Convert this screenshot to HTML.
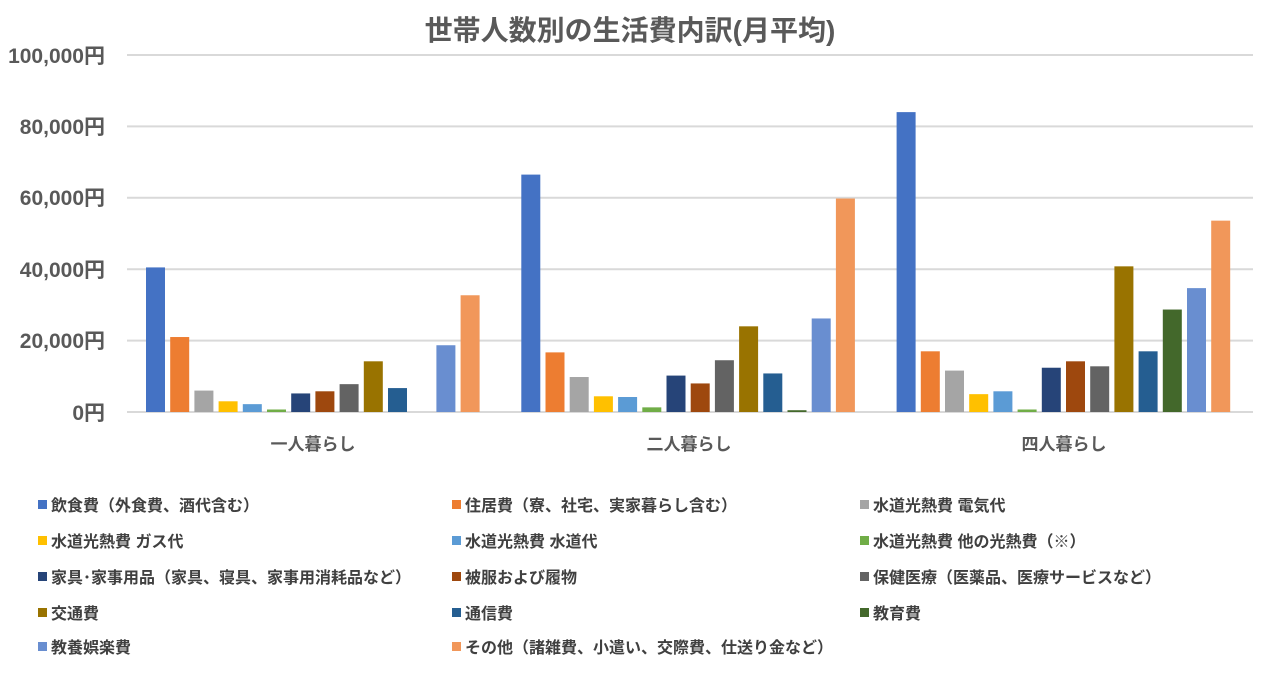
<!DOCTYPE html>
<html><head><meta charset="utf-8"><style>
body{margin:0;background:#fff;width:1271px;height:672px;overflow:hidden}
svg text{font-family:"Liberation Sans","Noto Sans CJK JP",sans-serif;font-weight:bold}
</style></head><body>
<svg width="1271" height="672" viewBox="0 0 1271 672" xmlns="http://www.w3.org/2000/svg">
<text x="630" y="40" text-anchor="middle" font-size="28" fill="#595959">世帯人数別の生活費内訳(月平均)</text>
<g stroke="#d9d9d9" stroke-width="2">
<line x1="127" x2="1253" y1="55" y2="55"/><line x1="127" x2="1253" y1="126.4" y2="126.4"/>
<line x1="127" x2="1253" y1="197.8" y2="197.8"/><line x1="127" x2="1253" y1="269.2" y2="269.2"/>
<line x1="127" x2="1253" y1="340.6" y2="340.6"/><line x1="127" x2="1253" y1="412" y2="412"/>
</g>
<g font-size="21" fill="#595959" text-anchor="end">
<text x="105" y="63">100,000円</text><text x="105" y="134">80,000円</text>
<text x="105" y="205">60,000円</text><text x="105" y="277">40,000円</text>
<text x="105" y="348">20,000円</text><text x="105" y="420">0円</text>
</g>
<g font-size="17" fill="#595959" text-anchor="middle">
<text x="313" y="450">一人暮らし</text><text x="689" y="450">二人暮らし</text><text x="1064" y="450">四人暮らし</text>
</g>
<g id="bars"></g>
<g font-size="16" fill="#404040" id="leg"></g>
</svg>
<script>
const colors=["#4472c4","#ed7d31","#a5a5a5","#ffc000","#5b9bd5","#70ad47","#264478","#9e480e","#636363","#997300","#255e91","#43682b","#698ed0","#f1975a"];
const names=["飲食費（外食費、酒代含む）","住居費（寮、社宅、実家暮らし含む）","水道光熱費 電気代","水道光熱費 ガス代","水道光熱費 水道代","水道光熱費 他の光熱費（※）","家具･家事用品（家具、寝具、家事用消耗品など）","被服および履物","保健医療（医薬品、医療サービスなど）","交通費","通信費","教育費","教養娯楽費","その他（諸雑費、小遣い、交際費、仕送り金など）"];
const data=[[40.5,21,6,3,2.2,0.7,5.2,5.8,7.8,14.2,6.7,0,18.7,32.7],
[66.5,16.7,9.8,4.4,4.2,1.3,10.2,8,14.5,24,10.8,0.5,26.2,59.8],
[84,17,11.6,5,5.8,0.7,12.4,14.2,12.8,40.8,17,28.7,34.7,53.6]];
let s="";
data.forEach((g,gi)=>g.forEach((v,i)=>{const h=v*3.57;const x=146+gi*375.3+i*24.2;
s+=`<rect x="${x}" y="${412-h}" width="19" height="${h}" fill="${colors[i]}"/>`;}));
document.getElementById("bars").innerHTML=s;
let l="";const cx=[38,452,860],ry=[505,541,577,613,647];
names.forEach((n,i)=>{const x=cx[i%3],y=ry[Math.floor(i/3)];
l+=`<rect x="${x}" y="${y-5}" width="9" height="9" fill="${colors[i]}"/><text x="${x+13}" y="${y+6}">${n}</text>`;});
document.getElementById("leg").innerHTML=l;
</script>
</body></html>
